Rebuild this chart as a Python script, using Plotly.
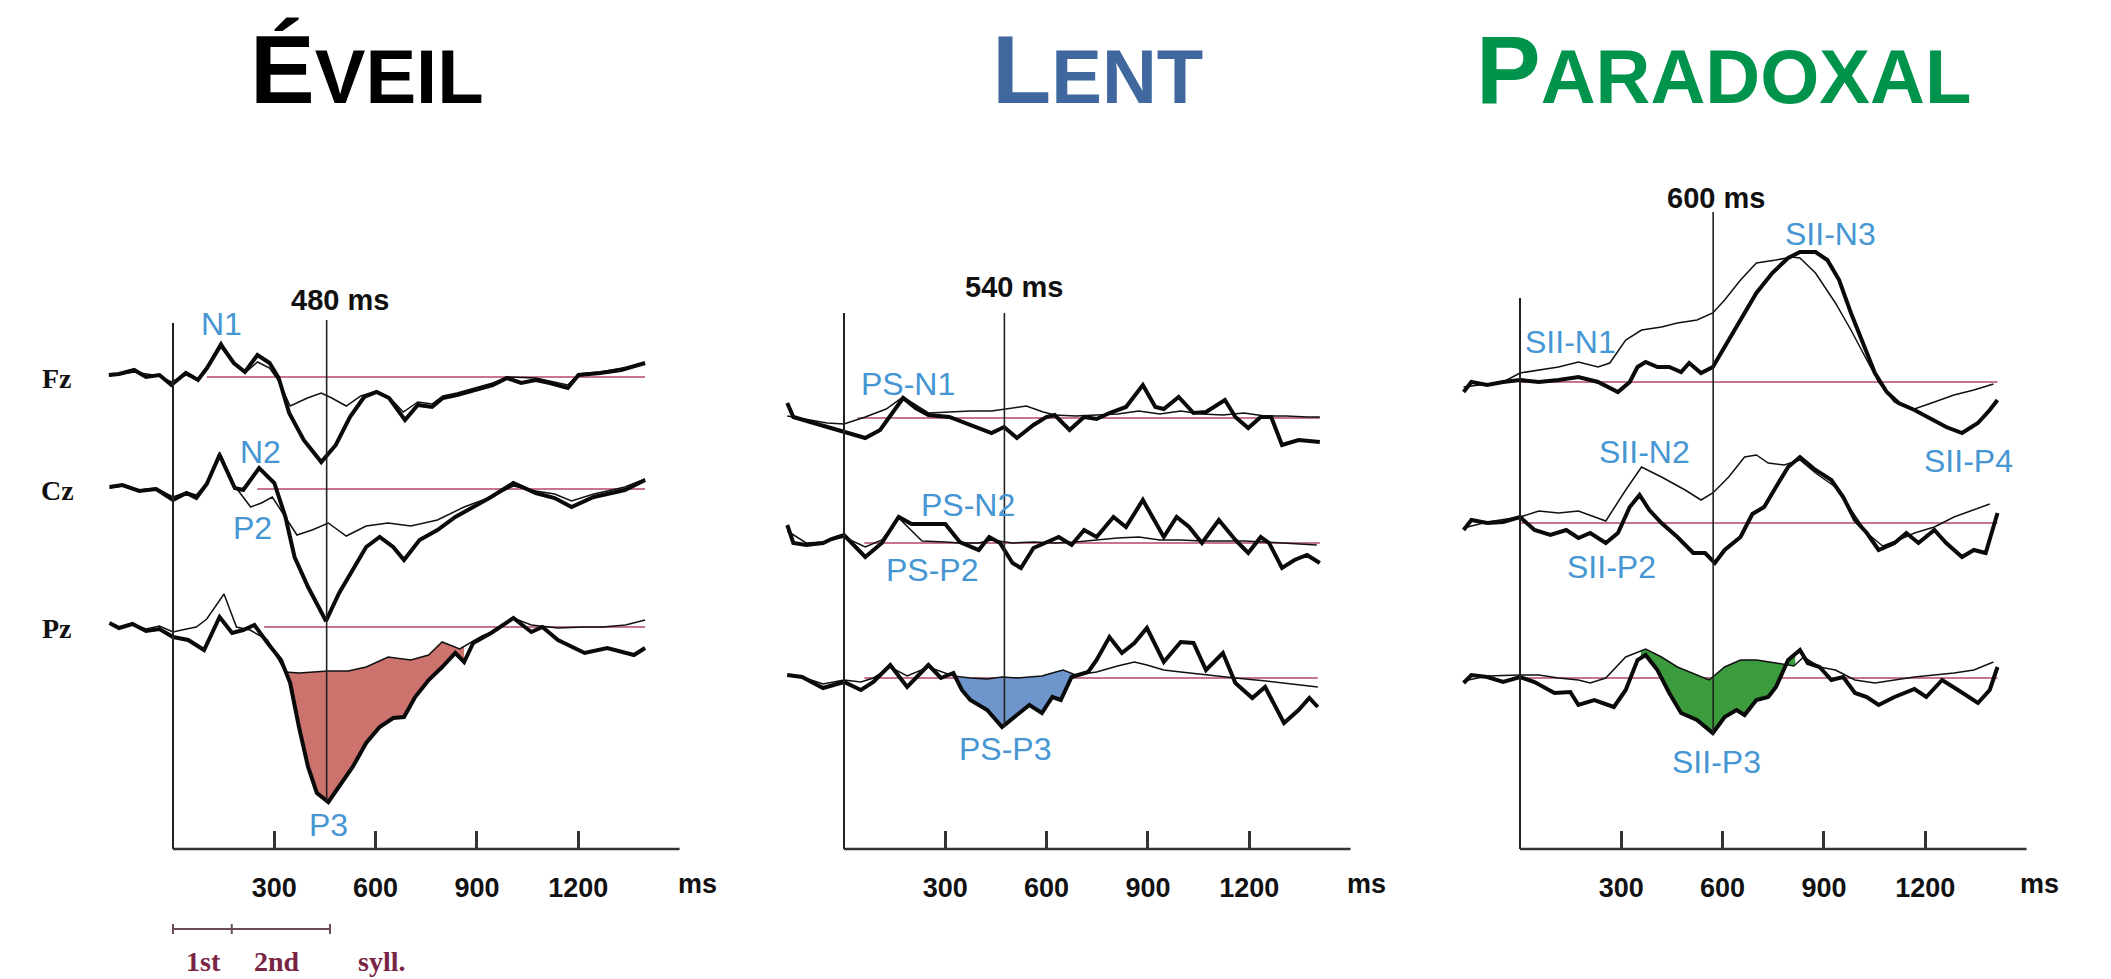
import numpy as np
import plotly.graph_objects as go

W, H = 2111, 979

# ================= DATA (time in ms, amplitude in display units, + = upward) =================
# ---- ÉVEIL ----
EV_FZ_THICK_T = [-190,-160,-115,-80,-40,-5,38,74,101,142,180,213,250,286,313,344,387,439,482,524,566,603,640,687,725,767,799,841,894,947,989,1031,1074,1116,1169,1201,1265,1327,1398]
EV_FZ_THICK_V = [0.2,0.3,0.7,0.0,0.2,-0.8,0.4,-0.3,0.9,3.2,1.4,0.5,2.2,1.4,-0.1,-3.6,-6.3,-8.5,-6.8,-4.0,-2.0,-1.5,-2.1,-4.3,-2.8,-3.0,-2.1,-1.8,-1.3,-0.8,-0.1,-0.6,-0.3,-0.6,-1.1,0.2,0.4,0.7,1.4]
EV_FZ_THIN_T = [-190,-115,-40,-5,38,74,101,142,180,213,250,286,313,347,398,439,470,513,556,603,640,682,725,767,799,841,894,947,989,1074,1169,1201,1265,1327,1398]
EV_FZ_THIN_V = [0.1,0.5,0.1,-0.5,0.2,-0.2,1.1,3.5,1.3,0.4,1.5,0.9,-0.4,-2.9,-2.1,-1.6,-2.1,-2.9,-1.9,-1.4,-2.0,-3.5,-2.5,-2.7,-1.9,-1.6,-1.1,-0.6,0.0,-0.1,-0.8,0.3,0.5,0.9,1.3]

EV_CZ_THICK_T = [-188,-150,-100,-50,0,40,69,100,138,183,208,255,300,333,360,400,453,492,532,572,612,652,684,730,783,836,889,942,1008,1074,1130,1180,1246,1300,1338,1398]
EV_CZ_THICK_V = [0.2,0.4,-0.2,0.0,-1.1,-0.4,-0.9,0.5,3.4,0.1,-0.1,2.1,0.6,-2.8,-6.8,-9.8,-13.2,-10.4,-8.1,-5.8,-4.8,-5.8,-7.1,-5.1,-4.1,-2.8,-1.8,-0.8,0.6,-0.4,-0.9,-1.8,-0.8,-0.4,-0.1,0.9]
EV_CZ_THIN_T = [-188,-150,-100,-50,0,40,69,100,138,183,230,262,294,333,367,412,460,513,572,637,704,783,862,942,1008,1074,1130,1180,1246,1300,1338,1398]
EV_CZ_THIN_V = [0.1,0.3,-0.1,0.1,-0.8,-0.3,-0.6,0.6,3.7,0.3,-1.8,-1.4,-0.8,-2.8,-4.6,-4.1,-3.4,-4.7,-3.7,-3.4,-3.7,-3.1,-1.8,-0.8,0.3,-0.2,-0.5,-1.2,-0.5,-0.1,0.2,1.0]

EV_PZ_THICK_T = [-188,-160,-120,-80,-40,0,45,92,138,175,208,241,280,320,347,373,400,426,460,492,532,572,612,652,684,717,757,797,836,862,889,942,1008,1061,1094,1140,1219,1286,1365,1398]
EV_PZ_THICK_V = [0.4,-0.1,0.3,-0.4,-0.2,-1.0,-1.3,-2.3,1.0,-0.6,-0.3,0.2,-1.6,-3.3,-5.6,-10.0,-14.0,-16.6,-17.5,-16.0,-14.0,-11.6,-10.0,-9.1,-9.0,-7.0,-5.3,-4.0,-2.6,-3.5,-1.6,-0.6,0.9,-0.5,0.0,-1.3,-2.6,-2.1,-2.8,-2.1]
EV_PZ_THIN_T = [-188,-160,-120,-80,-40,0,40,69,100,151,188,228,280,333,373,413,460,519,572,637,704,757,797,849,915,960,1008,1061,1140,1219,1272,1340,1398]
EV_PZ_THIN_V = [0.4,0.0,0.3,-0.2,0.1,-0.5,-0.2,0.0,0.8,3.3,0.0,-0.3,-1.3,-4.5,-4.6,-4.5,-4.4,-4.4,-4.0,-3.0,-3.3,-2.8,-1.5,-2.2,-0.9,-0.3,0.9,0.2,-0.1,0.0,0.0,0.2,0.7]

# ---- LENT ----
LE_R1_THICK_T = [-168,-150,-100,-50,0,63,107,150,175,212,250,312,374,437,474,512,561,599,624,668,711,748,786,835,885,922,947,991,1035,1072,1128,1159,1197,1234,1265,1297,1346,1409]
LE_R1_THICK_V = [1.5,0.1,-0.4,-0.9,-1.4,-2.0,-1.2,0.8,2.0,1.0,0.3,0.1,-0.7,-1.5,-0.9,-2.0,-0.7,0.1,0.3,-1.2,0.1,-0.1,0.5,1.1,3.3,1.1,0.9,2.1,0.5,0.6,1.8,0.1,-1.0,0.1,0.1,-2.7,-2.2,-2.4]
LE_R1_THIN_T = [-168,-100,-50,0,63,125,175,250,312,374,437,499,540,590,624,686,748,810,873,935,997,1060,1122,1184,1247,1309,1371,1409]
LE_R1_THIN_V = [0.2,-0.2,-0.5,-0.6,0.1,0.9,2.1,0.5,0.6,0.7,0.7,1.0,1.2,0.6,0.3,0.2,0.3,0.4,0.7,0.4,0.7,0.4,0.3,0.5,0.2,0.2,0.1,0.1]

LE_R2_THICK_T = [-168,-150,-112,-62,-37,0,63,112,162,200,225,300,343,399,430,462,499,524,561,599,636,674,711,748,798,835,885,947,985,1022,1060,1110,1159,1197,1234,1259,1297,1334,1371,1409]
LE_R2_THICK_V = [1.8,0.0,-0.2,0.0,0.4,0.8,-1.4,0.0,2.6,1.9,1.9,1.9,0.1,-0.7,0.6,0.0,-2.0,-2.5,-0.5,0.1,0.6,-0.2,1.3,0.6,2.6,1.6,4.3,0.6,2.6,1.6,0.0,2.3,0.3,-1.0,0.6,0.0,-2.5,-1.7,-1.2,-2.0]
LE_R2_THIN_T = [-168,-112,-62,0,63,112,162,231,300,343,399,437,499,561,624,686,748,810,873,935,997,1060,1122,1184,1247,1309,1371,1400]
LE_R2_THIN_V = [1.2,0.0,0.1,0.6,-0.4,0.3,2.5,0.2,0.1,0.0,0.0,0.3,0.0,0.1,0.0,0.1,0.3,0.5,0.6,0.3,0.3,0.2,0.2,0.2,0.1,0.0,-0.1,-0.2]

LE_R3_THICK_T = [-168,-124,-62,0,50,87,137,187,250,287,324,349,374,424,468,512,549,586,617,642,674,723,748,786,823,860,897,947,997,1035,1072,1122,1159,1209,1247,1303,1346,1378,1403]
LE_R3_THICK_V = [0.3,0.1,-1.0,-0.4,-1.2,-0.4,1.3,-0.9,1.3,0.0,0.5,-1.2,-2.2,-3.2,-4.9,-3.7,-2.7,-3.5,-1.9,-2.2,0.1,0.6,1.8,4.1,2.5,3.5,5.0,1.6,3.6,3.5,0.8,2.5,-0.5,-2.0,-0.9,-4.5,-3.2,-2.0,-2.9]
LE_R3_THIN_T = [-168,-124,-62,0,50,87,137,187,250,324,374,424,468,512,549,586,617,649,686,723,748,810,860,897,947,997,1072,1159,1250,1320,1403]
LE_R3_THIN_V = [0.3,0.1,-0.6,-0.2,-0.4,0.0,1.1,0.2,1.1,0.2,0.0,-0.1,0.1,0.0,0.1,0.2,0.5,0.8,0.3,0.5,0.6,1.2,1.6,1.3,0.8,0.6,0.3,0.0,-0.3,-0.6,-0.9]

# ---- PARADOXAL ----
PA_R1_THICK_T = [-167,-144,-97,-50,0,56,114,173,231,290,325,348,372,407,442,477,501,536,571,606,653,700,747,794,829,875,910,945,980,1016,1051,1086,1121,1168,1215,1262,1309,1356,1391,1414]
PA_R1_THICK_V = [-1.0,0.0,-0.3,0.0,0.2,0.0,0.2,0.5,0.0,-1.0,0.0,1.5,2.0,1.5,1.5,1.0,1.9,0.9,1.5,3.5,6.2,8.9,10.9,12.4,13.0,13.0,12.2,10.2,6.9,3.9,0.9,-1.0,-2.1,-2.8,-3.6,-4.5,-5.1,-4.1,-2.8,-1.8]
PA_R1_THIN_T = [-167,-97,-50,0,56,114,173,231,266,313,360,419,466,524,571,606,653,700,758,805,829,875,934,980,1027,1062,1109,1168,1227,1285,1344,1402]
PA_R1_THIN_V = [-0.5,-0.2,0.0,0.9,1.2,1.5,2.0,1.5,1.9,4.2,5.2,5.5,5.9,6.2,6.9,8.2,10.2,11.9,12.2,12.5,12.4,10.9,7.9,5.2,2.2,0.0,-2.0,-2.7,-2.0,-1.3,-0.8,-0.2]

PA_R2_THICK_T = [-167,-144,-97,-50,0,43,90,137,173,208,254,290,325,354,383,419,466,513,548,577,606,653,688,723,758,794,829,875,922,957,992,1027,1062,1109,1144,1180,1227,1262,1309,1344,1379,1414]
PA_R2_THICK_V = [-0.7,0.3,0.0,0.1,0.6,-0.7,-1.2,-0.7,-1.5,-1.0,-2.0,-1.0,1.6,2.8,1.3,0.0,-1.4,-3.0,-3.0,-4.0,-2.7,-1.4,0.9,1.6,3.6,5.6,6.6,5.3,4.3,2.6,0.3,-1.0,-2.7,-2.0,-1.0,-2.0,-0.7,-2.0,-3.4,-2.7,-3.0,1.0]
PA_R2_THIN_T = [-167,-97,0,56,114,173,254,313,360,419,489,536,571,618,665,700,735,782,829,875,934,980,1027,1074,1121,1168,1227,1285,1344,1391]
PA_R2_THIN_V = [-0.5,0.1,0.6,1.2,1.0,1.2,0.2,3.3,5.6,4.6,3.3,2.3,3.0,4.6,6.6,6.8,6.0,5.8,6.3,5.0,3.6,1.3,-1.0,-2.3,-1.7,-1.0,-0.4,0.6,1.3,1.9]

PA_R3_THICK_T = [-167,-144,-97,-50,0,43,102,149,173,220,278,313,348,372,407,442,477,524,571,606,641,665,700,735,758,794,829,852,887,922,957,992,1027,1062,1109,1168,1203,1250,1297,1356,1391,1414]
PA_R3_THICK_V = [-0.5,0.3,0.1,-0.4,0.1,-0.4,-1.5,-1.4,-2.7,-2.2,-2.9,-1.2,1.8,2.3,0.8,-1.5,-3.5,-4.2,-5.5,-3.9,-3.2,-3.7,-2.2,-1.9,-0.9,1.8,2.8,1.5,1.1,-0.2,0.1,-1.5,-1.9,-2.7,-1.9,-1.1,-1.9,-0.2,-1.2,-2.5,-1.2,1.1]
PA_R3_THIN_T = [-167,-97,0,56,114,173,208,254,313,372,419,466,560,606,653,700,758,811,840,887,934,992,1051,1109,1168,1227,1285,1344,1402]
PA_R3_THIN_V = [-0.3,0.2,0.3,0.3,0.0,-0.2,-0.5,0.0,2.1,2.9,2.1,1.1,-0.2,1.1,1.8,1.8,1.5,1.2,2.1,1.1,0.8,-0.2,-0.5,-0.2,0.1,0.3,0.5,0.8,1.6]

# text content
TITLES = [("É", "VEIL"), ("L", "ENT"), ("P", "ARADOXAL")]
TITLE_COLORS = ["#000000", "#40689e", "#00934c"]
TICK_VALS = [300, 600, 900, 1200]
CHANNELS = ["Fz", "Cz", "Pz"]
MARKER_LABELS = ["480 ms", "540 ms", "600 ms"]
MARKER_TIMES = [455, 475, 572]          # where the latency line is drawn
SYLL_TIMES = [0, 174, 465]
SYLL_TEXT = ["1st", "2nd", "syll."]

# ================= LAYOUT GEOMETRY (pixels) =================
SCALE = 0.3377            # px per ms
AXIS_PX = 849             # y of the time axis
ZERO_PX = [173, 844, 1520]
DOMAIN_PX = [(20, 740), (760, 1420), (1440, 2100)]
BASE_PX = [(377, 489, 627), (418, 543, 678), (382, 523, 678)]
AXIS_TOP_PX = [323, 313, 298]
MARK_TOP_PX = [320, 313, 212]
MARK_BOT_PX = [801, 727, 735]
PINK_START = [(100, 250, 270), (40, 60, 60), (0, 0, 0)]

def yv(py):
    return -py / 10.0

def xv(px, i):
    return (px - ZERO_PX[i]) / SCALE

panels = [
    [(EV_FZ_THICK_T, EV_FZ_THICK_V, EV_FZ_THIN_T, EV_FZ_THIN_V),
     (EV_CZ_THICK_T, EV_CZ_THICK_V, EV_CZ_THIN_T, EV_CZ_THIN_V),
     (EV_PZ_THICK_T, EV_PZ_THICK_V, EV_PZ_THIN_T, EV_PZ_THIN_V)],
    [(LE_R1_THICK_T, LE_R1_THICK_V, LE_R1_THIN_T, LE_R1_THIN_V),
     (LE_R2_THICK_T, LE_R2_THICK_V, LE_R2_THIN_T, LE_R2_THIN_V),
     (LE_R3_THICK_T, LE_R3_THICK_V, LE_R3_THIN_T, LE_R3_THIN_V)],
    [(PA_R1_THICK_T, PA_R1_THICK_V, PA_R1_THIN_T, PA_R1_THIN_V),
     (PA_R2_THICK_T, PA_R2_THICK_V, PA_R2_THIN_T, PA_R2_THIN_V),
     (PA_R3_THICK_T, PA_R3_THICK_V, PA_R3_THIN_T, PA_R3_THIN_V)],
]
FILL_WINDOWS = [(335, 862), (340, 690), (358, 815)]
FILL_COLORS = ["#cd736e", "#6e96cd", "#3c9b3c"]

fig = go.Figure()
shapes = []
annotations = []
SANS = "Liberation Sans, Arial, sans-serif"
SERIF = "Liberation Serif, Times New Roman, serif"
LABEL_FONT = dict(family=SANS, size=32, color="#4596d3")
BOLD_FONT = dict(family=SANS, size=29, color="#111111", weight="bold")

for i, rows in enumerate(panels):
    xa = "x" if i == 0 else f"x{i+1}"
    ya = "y" if i == 0 else f"y{i+1}"
    # shaded P3 area between thin and thick traces of the last row
    tT, tV, nT, nV = rows[2]
    off = yv(BASE_PX[i][2])
    a, b = FILL_WINDOWS[i]
    ts = np.array(sorted(set([a, b] + [t for t in tT + nT if a <= t <= b])), dtype=float)
    top = np.interp(ts, nT, nV) + off
    bot = np.interp(ts, tT, tV) + off
    fig.add_trace(go.Scatter(x=np.concatenate([ts, ts[::-1]]), y=np.concatenate([bot, top[::-1]]),
                             fill="toself", fillcolor=FILL_COLORS[i], line=dict(width=0),
                             mode="lines", xaxis=xa, yaxis=ya, hoverinfo="skip", showlegend=False))
    for r, (tT, tV, nT, nV) in enumerate(rows):
        off = yv(BASE_PX[i][r])
        shapes.append(dict(type="line", xref=xa, yref=ya, x0=PINK_START[i][r], x1=max(tT),
                           y0=off, y1=off, line=dict(color="#b04a66", width=1.6), layer="below"))
        fig.add_trace(go.Scatter(x=nT, y=[v + off for v in nV], mode="lines",
                                 line=dict(color="#111111", width=1.5),
                                 xaxis=xa, yaxis=ya, showlegend=False, hoverinfo="skip"))
        fig.add_trace(go.Scatter(x=tT, y=[v + off for v in tV], mode="lines",
                                 line=dict(color="#0a0a0a", width=4),
                                 xaxis=xa, yaxis=ya, showlegend=False, hoverinfo="skip"))
    shapes.append(dict(type="line", xref=xa, yref=ya, x0=0, x1=0, y0=yv(AXIS_PX), y1=yv(AXIS_TOP_PX[i]),
                       line=dict(color="#222222", width=2)))
    shapes.append(dict(type="line", xref=xa, yref=ya, x0=0, x1=1500, y0=yv(AXIS_PX), y1=yv(AXIS_PX),
                       line=dict(color="#333333", width=2.5)))
    shapes.append(dict(type="line", xref=xa, yref=ya, x0=MARKER_TIMES[i], x1=MARKER_TIMES[i],
                       y0=yv(MARK_BOT_PX[i]), y1=yv(MARK_TOP_PX[i]),
                       line=dict(color="#222222", width=1.6)))
    annotations.append(dict(xref=xa, yref=ya, x=xv([697, 1366, 2039][i], i), y=yv(884), text="ms",
                            showarrow=False, font=dict(family=SANS, size=27, color="#111111", weight="bold")))
    big, small = TITLES[i]
    annotations.append(dict(xref="paper", yref="paper", x=[367, 1097, 1723][i] / W, y=1 - 70 / H,
                            text=f"{big}<span style='font-size:76px'>{small}</span>",
                            showarrow=False, xanchor="center", yanchor="middle",
                            font=dict(family=SANS, size=97, color=TITLE_COLORS[i], weight="bold")))

for i, (px, py) in enumerate([(340, 300), (1014, 287), (1716, 198)]):
    xa = "x" if i == 0 else f"x{i+1}"
    ya = "y" if i == 0 else f"y{i+1}"
    annotations.append(dict(xref=xa, yref=ya, x=xv(px, i), y=yv(py), text=MARKER_LABELS[i],
                            showarrow=False, font=BOLD_FONT))

COMP_LABELS = [
    [("N1", 221, 324), ("N2", 260, 452), ("P2", 252, 528), ("P3", 328, 825)],
    [("PS-N1", 908, 384), ("PS-N2", 968, 505), ("PS-P2", 932, 570), ("PS-P3", 1005, 749)],
    [("SII-N1", 1570, 342), ("SII-N3", 1830, 234), ("SII-N2", 1644, 452), ("SII-P4", 1968, 461),
     ("SII-P2", 1611, 567), ("SII-P3", 1716, 762)],
]
for i, labs in enumerate(COMP_LABELS):
    xa = "x" if i == 0 else f"x{i+1}"
    ya = "y" if i == 0 else f"y{i+1}"
    for txt, px, py in labs:
        annotations.append(dict(xref=xa, yref=ya, x=xv(px, i), y=yv(py), text=txt,
                                showarrow=False, font=LABEL_FONT))

for r, ch in enumerate(CHANNELS):
    annotations.append(dict(xref="x", yref="y", x=xv(57, 0), y=yv(BASE_PX[0][r] + 1), text=ch,
                            showarrow=False, font=dict(family=SERIF, size=28, color="#111111", weight="bold")))

SY = yv(929)
shapes.append(dict(type="line", xref="x", yref="y", x0=SYLL_TIMES[0], x1=SYLL_TIMES[-1], y0=SY, y1=SY,
                   line=dict(color="#6b4b57", width=2)))
for t in SYLL_TIMES:
    shapes.append(dict(type="line", xref="x", yref="y", x0=t, x1=t, y0=SY - 0.5, y1=SY + 0.5,
                       line=dict(color="#6b4b57", width=2)))
for txt, px in zip(SYLL_TEXT, [203, 277, 381]):
    annotations.append(dict(xref="x", yref="y", x=xv(px, 0), y=yv(961), text=txt, showarrow=False,
                            font=dict(family=SERIF, size=28, color="#7a2445", weight="bold")))

layout = dict(width=W, height=H, margin=dict(l=0, r=0, t=0, b=0),
              paper_bgcolor="white", plot_bgcolor="white", showlegend=False,
              shapes=shapes, annotations=annotations)
for i in range(3):
    d0, d1 = DOMAIN_PX[i]
    xkey = "xaxis" if i == 0 else f"xaxis{i+1}"
    ykey = "yaxis" if i == 0 else f"yaxis{i+1}"
    layout[xkey] = dict(domain=[d0 / W, d1 / W], range=[xv(d0, i), xv(d1, i)],
                        anchor="free", position=1 - AXIS_PX / H,
                        tickvals=TICK_VALS, ticktext=[str(v) for v in TICK_VALS],
                        ticks="inside", ticklen=18, tickwidth=2.5, tickcolor="#333333",
                        showline=False, showgrid=False, zeroline=False,
                        ticklabelstandoff=20,
                        tickfont=dict(family=SANS, size=27, color="#111111", weight="bold"))
    layout[ykey] = dict(domain=[0, 1], range=[-H / 10.0, 0], visible=False,
                        anchor="x" if i == 0 else f"x{i+1}")
fig.update_layout(**layout)
fig.write_html("out.html")
